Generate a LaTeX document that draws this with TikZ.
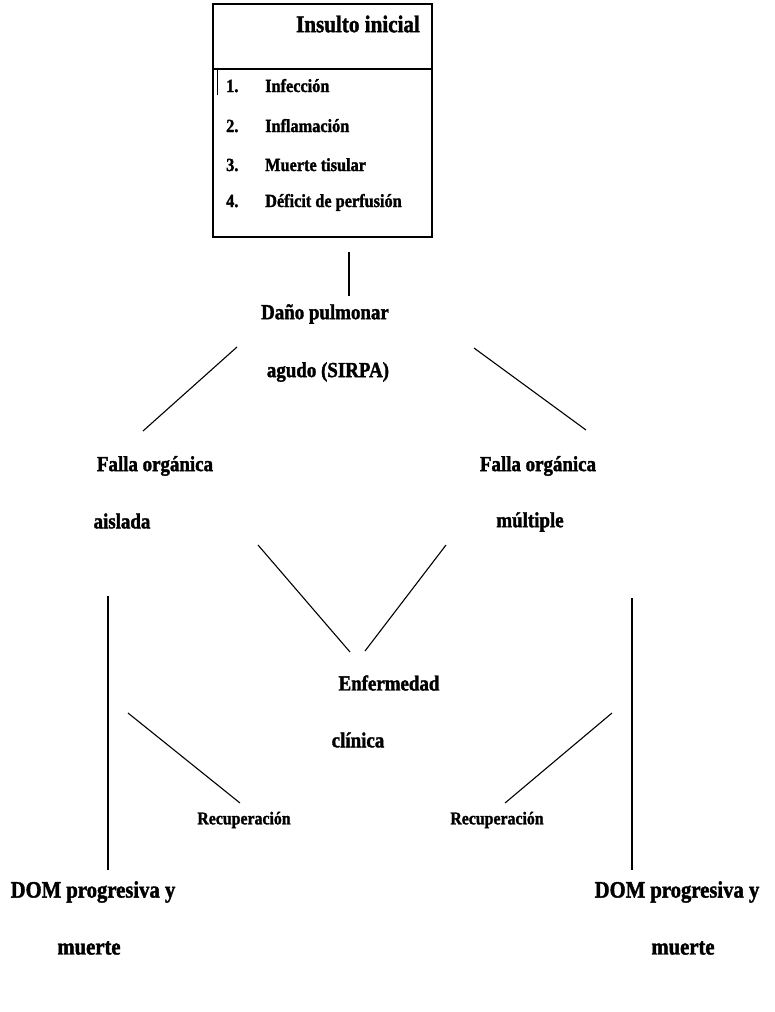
\documentclass[tikz,border=0pt]{standalone}
\usepackage{fontspec}
\setmainfont{Liberation Serif}[FakeStretch=0.88, BoldFeatures={FakeBold=1.6}]
\begin{document}
\begin{tikzpicture}[x=1pt,y=-1pt,
  lab/.style={font=\fontsize{21.5}{21.5}\selectfont\bfseries, inner sep=0pt, anchor=center},
  big/.style={font=\fontsize{23.5}{23.5}\selectfont\bfseries, inner sep=0pt, anchor=center},
  small/.style={font=\fontsize{18}{18}\selectfont\bfseries, inner sep=0pt, anchor=center},
  item/.style={font=\fontsize{18.5}{18.5}\selectfont\bfseries, inner sep=0pt, anchor=base west},
  conn/.style={line width=1.1pt, black}]
\useasboundingbox (0,0) rectangle (774,1012);
% top box
\draw[line width=1.3pt] (213,4) rectangle (432,237);
\draw[line width=1.1pt] (213,69) -- (432,69);
\draw[line width=0.8pt] (217,69) -- (217,95);
\node[font=\fontsize{24}{24}\selectfont\bfseries, inner sep=0pt] (title) at (358,24) {Insulto inicial};
\node[item] (n1) at (226,92) {1.};  \node[item] (i1) at (265,92) {Infección};
\node[item] (n2) at (226,132) {2.}; \node[item] (i2) at (265,132) {Inflamación};
\node[item] (n3) at (226,171) {3.}; \node[item] (i3) at (265,171) {Muerte tisular};
\node[item] (n4) at (226,207) {4.}; \node[item] (i4) at (265,207) {Déficit de perfusión};
% labels
\node[lab] (dano1) at (325,314) {Daño pulmonar};
\node[lab] (dano2) at (328,372) {agudo (SIRPA)};
\node[lab] (fal1) at (155,466) {Falla orgánica};
\node[lab] (fal2) at (122,521) {aislada};
\node[lab] (fam1) at (538,466) {Falla orgánica};
\node[lab] (fam2) at (530,522) {múltiple};
\node[lab] (enf1) at (389,683) {Enfermedad};
\node[lab] (enf2) at (358,740) {clínica};
\node[small] (rec1) at (244,820) {Recuperación};
\node[small] (rec2) at (497,820) {Recuperación};
\node[big] (dom1) at (93,892) {DOM progresiva y};
\node[big] (mu1) at (89,948) {muerte};
\node[big] (dom2) at (677,892) {DOM progresiva y};
\node[big] (mu2) at (683,948) {muerte};
% connector endpoints
\coordinate (a0) at (349,252); \coordinate (a1) at (349,296);
\coordinate (b0) at (237,347); \coordinate (b1) at (143,431);
\coordinate (c0) at (474,348); \coordinate (c1) at (586,430);
\coordinate (d0) at (258,545); \coordinate (d1) at (350,652);
\coordinate (e0) at (446,545); \coordinate (e1) at (365,651);
\coordinate (f0) at (108,596); \coordinate (f1) at (108,870);
\coordinate (g0) at (632,598); \coordinate (g1) at (632,870);
\coordinate (h0) at (128,713); \coordinate (h1) at (240,803);
\coordinate (k0) at (612,713); \coordinate (k1) at (505,803);
\draw[conn] (a0) -- (a1);
\draw[conn] (b0) -- (b1);
\draw[conn] (c0) -- (c1);
\draw[conn] (d0) -- (d1);
\draw[conn] (e0) -- (e1);
\draw[conn] (f0) -- (f1);
\draw[conn] (g0) -- (g1);
\draw[conn] (h0) -- (h1);
\draw[conn] (k0) -- (k1);
\end{tikzpicture}
\end{document}
